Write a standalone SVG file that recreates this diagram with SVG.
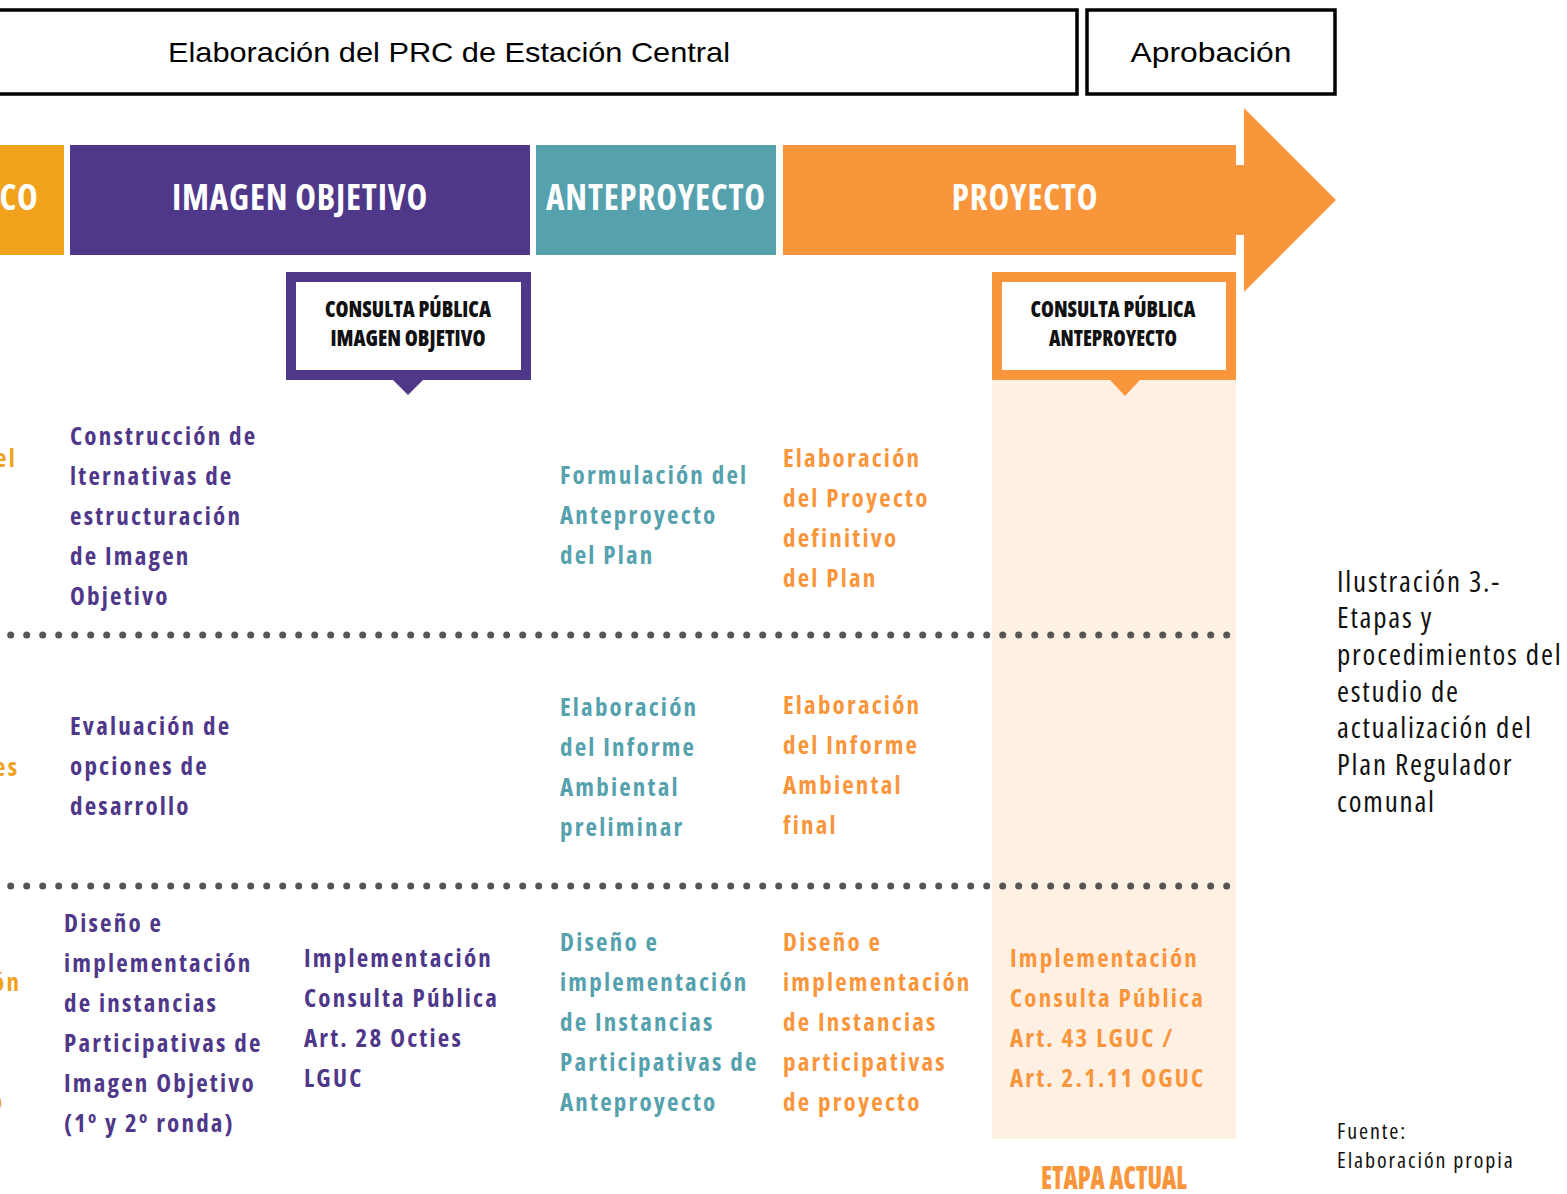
<svg xmlns="http://www.w3.org/2000/svg" width="1567" height="1194" viewBox="0 0 1567 1194">
<style>
.hdr{fill:#fff;stroke:#000;stroke-width:3.5}
.hdrt{font-family:"Liberation Sans",Arial,sans-serif;font-size:28px;fill:#000;text-anchor:middle}
.ph{font-family:"Open Sans",sans-serif;font-stretch:75%;font-weight:700;font-size:35px;fill:#fff;text-anchor:middle;letter-spacing:0.8px}
.cp{font-family:"Open Sans",sans-serif;font-stretch:75%;font-weight:800;font-size:22px;fill:#111;text-anchor:middle}
.b{font-family:"Open Sans",sans-serif;font-stretch:75%;font-weight:700;font-size:25px;letter-spacing:2.2px}
.pu{fill:#4F3789}.te{fill:#55A1AE}.or{fill:#F9963C}.yo{fill:#F0A21D}
.cap{font-family:"Open Sans",sans-serif;font-stretch:75%;font-weight:400;font-size:29px;fill:#111;letter-spacing:1.8px}
.src{font-family:"Open Sans",sans-serif;font-stretch:75%;font-weight:400;font-size:22px;fill:#111;letter-spacing:1.9px}
.dots{fill:none;stroke:#555;stroke-width:7;stroke-linecap:round;stroke-dasharray:0 16}
</style>
<rect width="1567" height="1194" fill="#fff"/>
<g id="header-elaboracion">
<rect class="hdr" x="-5" y="10" width="1082" height="84"/>
<text class="hdrt" x="449" y="62" textLength="562" lengthAdjust="spacingAndGlyphs">Elaboración del PRC de Estación Central</text>
</g>
<g id="header-aprobacion">
<rect class="hdr" x="1087" y="10" width="248" height="84"/>
<text class="hdrt" x="1211" y="62" textLength="161" lengthAdjust="spacingAndGlyphs">Aprobación</text>
</g>
<g id="etapa-actual-bg">
<rect x="992" y="380" width="244" height="759" fill="#FEF0E3"/>
</g>
<g id="phase-diagnostico">
<rect x="0" y="145" width="64" height="110" fill="#F0A21D"/>
<text class="ph" x="19" y="210">CO</text>
</g>
<g id="phase-imagen-objetivo">
<rect x="70" y="145" width="460" height="110" fill="#4F3789"/>
<text class="ph" x="300" y="210">IMAGEN OBJETIVO</text>
</g>
<g id="phase-anteproyecto">
<rect x="536" y="145" width="240" height="110" fill="#55A1AE"/>
<text class="ph" x="656" y="210">ANTEPROYECTO</text>
</g>
<g id="phase-proyecto">
<path d="M783 145H1236V165H1244V108L1336 200L1244 292V235H1236V255H783Z" fill="#F9963C"/>
<text class="ph" x="1025" y="210">PROYECTO</text>
</g>
<g id="consulta-imagen-objetivo">
<rect x="291" y="277" width="235" height="98" fill="#fff" stroke="#4F3789" stroke-width="10"/>
<path d="M393 380H423L408 395Z" fill="#4F3789"/>
<text class="cp" x="408" y="317" textLength="166" lengthAdjust="spacingAndGlyphs">CONSULTA PÚBLICA</text>
<text class="cp" x="408" y="346" textLength="155" lengthAdjust="spacingAndGlyphs">IMAGEN OBJETIVO</text>
</g>
<g id="consulta-anteproyecto">
<rect x="997" y="277" width="234" height="98" fill="#fff" stroke="#F9963C" stroke-width="10"/>
<path d="M1110 380H1140L1125 396Z" fill="#F9963C"/>
<text class="cp" x="1113" y="317" textLength="165" lengthAdjust="spacingAndGlyphs">CONSULTA PÚBLICA</text>
<text class="cp" x="1113" y="346" textLength="128" lengthAdjust="spacingAndGlyphs">ANTEPROYECTO</text>
</g>
<g id="connectors">
<line class="dots" x1="10.7" y1="635" x2="1227" y2="635"/>
<line class="dots" x1="10.7" y1="886" x2="1227" y2="886"/>
</g>
<g id="diag-fragments">
<text class="b yo" x="-5" y="467">el</text>
<text class="b yo" x="-6" y="776">es</text>
<text class="b yo" x="-8" y="991">ón</text>
<text class="b yo" x="-10" y="1110">o</text>
</g>
<g id="io-construccion">
<text class="b pu" x="70" y="445">Construcción de</text>
<text class="b pu" x="70" y="485">lternativas de</text>
<text class="b pu" x="70" y="525">estructuración</text>
<text class="b pu" x="70" y="565">de Imagen</text>
<text class="b pu" x="70" y="605">Objetivo</text>
</g>
<g id="ap-formulacion">
<text class="b te" x="560" y="484">Formulación del</text>
<text class="b te" x="560" y="524">Anteproyecto</text>
<text class="b te" x="560" y="564">del Plan</text>
</g>
<g id="pr-elaboracion">
<text class="b or" x="783" y="467">Elaboración</text>
<text class="b or" x="783" y="507">del Proyecto</text>
<text class="b or" x="783" y="547">definitivo</text>
<text class="b or" x="783" y="587">del Plan</text>
</g>
<g id="io-evaluacion">
<text class="b pu" x="70" y="735">Evaluación de</text>
<text class="b pu" x="70" y="775">opciones de</text>
<text class="b pu" x="70" y="815">desarrollo</text>
</g>
<g id="ap-informe">
<text class="b te" x="560" y="716">Elaboración</text>
<text class="b te" x="560" y="756">del Informe</text>
<text class="b te" x="560" y="796">Ambiental</text>
<text class="b te" x="560" y="836">preliminar</text>
</g>
<g id="pr-informe">
<text class="b or" x="783" y="714">Elaboración</text>
<text class="b or" x="783" y="754">del Informe</text>
<text class="b or" x="783" y="794">Ambiental</text>
<text class="b or" x="783" y="834">final</text>
</g>
<g id="io-participativas">
<text class="b pu" x="64" y="932">Diseño e</text>
<text class="b pu" x="64" y="972">implementación</text>
<text class="b pu" x="64" y="1012">de instancias</text>
<text class="b pu" x="64" y="1052">Participativas de</text>
<text class="b pu" x="64" y="1092">Imagen Objetivo</text>
<text class="b pu" x="64" y="1132">(1º y 2º ronda)</text>
</g>
<g id="io-consulta">
<text class="b pu" x="304" y="967">Implementación</text>
<text class="b pu" x="304" y="1007">Consulta Pública</text>
<text class="b pu" x="304" y="1047">Art. 28 Octies</text>
<text class="b pu" x="304" y="1087">LGUC</text>
</g>
<g id="ap-participativas">
<text class="b te" x="560" y="951">Diseño e</text>
<text class="b te" x="560" y="991">implementación</text>
<text class="b te" x="560" y="1031">de Instancias</text>
<text class="b te" x="560" y="1071">Participativas de</text>
<text class="b te" x="560" y="1111">Anteproyecto</text>
</g>
<g id="pr-participativas">
<text class="b or" x="783" y="951">Diseño e</text>
<text class="b or" x="783" y="991">implementación</text>
<text class="b or" x="783" y="1031">de Instancias</text>
<text class="b or" x="783" y="1071">participativas</text>
<text class="b or" x="783" y="1111">de proyecto</text>
</g>
<g id="pr-consulta">
<text class="b or" x="1010" y="967">Implementación</text>
<text class="b or" x="1010" y="1007">Consulta Pública</text>
<text class="b or" x="1010" y="1047">Art. 43 LGUC /</text>
<text class="b or" x="1010" y="1087">Art. 2.1.11 OGUC</text>
</g>
<g id="etapa-actual">
<text x="1114" y="1189" font-family="Open Sans, sans-serif" font-stretch="75%" font-weight="800" font-size="32" fill="#F9963C" text-anchor="middle" textLength="146" lengthAdjust="spacingAndGlyphs">ETAPA ACTUAL</text>
</g>
<g id="caption">
<text class="cap" x="1337" y="592">Ilustración 3.-</text>
<text class="cap" x="1337" y="628">Etapas y</text>
<text class="cap" x="1337" y="665">procedimientos del</text>
<text class="cap" x="1337" y="702">estudio de</text>
<text class="cap" x="1337" y="738">actualización del</text>
<text class="cap" x="1337" y="775">Plan Regulador</text>
<text class="cap" x="1337" y="812">comunal</text>
</g>
<g id="source">
<text class="src" x="1337" y="1139">Fuente:</text>
<text class="src" x="1337" y="1168">Elaboración propia</text>
</g>
</svg>
